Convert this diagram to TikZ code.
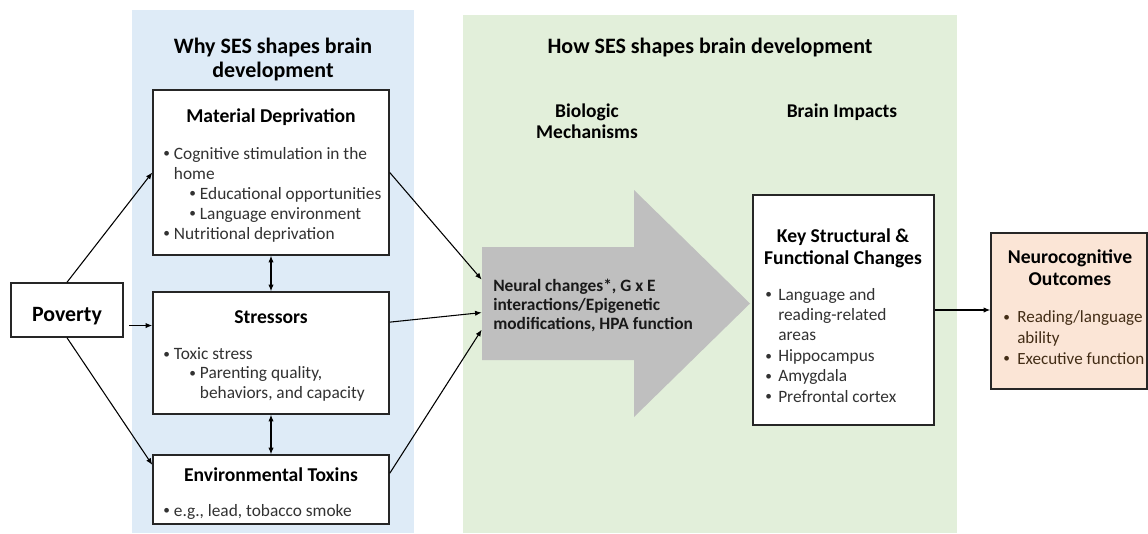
\documentclass[tikz,border=0pt]{standalone}
\usepackage{fontspec}
\setmainfont{Carlito}
\usetikzlibrary{positioning, arrows.meta, calc, fit}

\definecolor{whyblue}{RGB}{222,235,247}
\definecolor{howgreen}{RGB}{226,239,218}
\definecolor{mechgray}{RGB}{191,191,191}
\definecolor{outpeach}{RGB}{251,229,214}
\definecolor{bodytext}{RGB}{50,50,50}

\newcommand{\bul}[1][8pt]{\makebox[#1][l]{\raisebox{0.8pt}{\fontsize{10}{10}\selectfont\textbullet}}}
\newcommand{\sub}{\hspace*{19.5pt}}

\begin{document}
\begin{tikzpicture}[
    x=0.75pt, y=-0.75pt,
    panel/.style={inner sep=0pt, draw=none},
    box/.style={draw=black!85, line width=1.1pt, fill=white, inner sep=0pt},
    heading/.style={font=\fontsize{16.5}{18}\selectfont\bfseries, align=center, anchor=base, inner sep=0pt},
    boxtitle/.style={font=\fontsize{14.7}{16}\selectfont\bfseries, align=center, anchor=base, inner sep=0pt},
    items/.style={font=\fontsize{13}{15}\selectfont, text=bodytext, align=left, anchor=base west, inner sep=0pt},
    link/.style={-{Latex[length=5pt, width=4pt]}, line width=0.8pt},
    twoway/.style={{Latex[length=5pt, width=4pt]}-{Latex[length=5pt, width=4pt]}, line width=0.8pt}
]

    % Canvas
    \useasboundingbox (0,0) rectangle (1148,533);

    % Panels (anchor=base sits on the last line)
    \fill[whyblue] (132,10) rectangle (414,533);
    \fill[howgreen] (463,15) rectangle (957,533);
    \node[heading] (whytitle) at (273,77) {Why SES shapes brain\\development};
    \node[heading] (howtitle) at (710,53) {How SES shapes brain development};
    \node[boxtitle, font=\fontsize{14.6}{15.75}\selectfont\bfseries] (biotitle) at (587,138) {Biologic\\Mechanisms};
    \node[boxtitle, font=\fontsize{14.6}{15.75}\selectfont\bfseries] (imptitle) at (842,117) {Brain Impacts};

    % Poverty
    \node[box, fit={(11,283) (123,337)}] (pov) {};
    \node[boxtitle, font=\fontsize{16.4}{18}\selectfont\bfseries] (povtext) at (67,321) {Poverty};

    % Material deprivation
    \node[box, fit={(153,90) (389,255)}] (md) {};
    \node[boxtitle] (mdtitle) at (271,122) {Material Deprivation};
    \node[items] (mdlist) at (163,239) {\bul Cognitive stimulation in the\\
        \hspace*{8pt}home\\
        \sub\bul Educational opportunities\\
        \sub\bul Language environment\\
        \bul Nutritional deprivation};

    % Stressors
    \node[box, fit={(153,292) (389,414)}] (st) {};
    \node[boxtitle] (sttitle) at (271,323) {Stressors};
    \node[items, font=\fontsize{13}{14.6}\selectfont] (stlist) at (163,398) {\bul Toxic stress\\
        \sub\bul Parenting quality,\\
        \sub\hspace*{8pt}behaviors, and capacity};

    % Environmental toxins
    \node[box, fit={(153,455) (389,524)}] (env) {};
    \node[boxtitle] (envtitle) at (271,481) {Environmental Toxins};
    \node[items] (envlist) at (163,516) {\bul e.g., lead, tobacco smoke};

    % Biologic mechanisms arrow
    \fill[mechgray] (482,247) -- (634,247) -- (634,190) -- (750,303.5)
        -- (634,417) -- (634,360) -- (482,360) -- cycle;
    \node[panel, fit={(482,247) (634,360)}] (shaft) {};
    \node[items, text=black!90, font=\fontsize{13}{14.25}\selectfont\bfseries] (mech) at (493,329)
        {Neural changes*, G x E\\interactions/Epigenetic\\modifications, HPA function};

    % Brain impacts
    \node[box, fit={(753,195) (934,425)}] (key) {};
    \node[boxtitle] (keytitle) at (843,264) {Key Structural \&\\Functional Changes};
    \node[items, font=\fontsize{13}{15.3}\selectfont] (keylist) at (765,402) {\bul[9.75pt]Language and\\
        \hspace*{9.75pt}reading-related\\
        \hspace*{9.75pt}areas\\
        \bul[9.75pt]Hippocampus\\
        \bul[9.75pt]Amygdala\\
        \bul[9.75pt]Prefrontal cortex};

    % Outcomes
    \node[box, fill=outpeach, fit={(991,233) (1147,389)}] (out) {};
    \node[boxtitle] (outtitle) at (1070,285) {Neurocognitive\\Outcomes};
    \node[items, text=black!65!brown, font=\fontsize{12.8}{15.5}\selectfont] (outlist) at (1003,364) {\bul[10.5pt]Reading/language\\
        \hspace*{10.5pt}ability\\
        \bul[10.5pt]Executive function};

    % Connectors
    \coordinate (povout) at ($(pov.south east)!0.22!(pov.north east)$);
    \coordinate (stout) at ($(st.north east)!0.25!(st.south east)$);
    \coordinate (envin) at ($(env.north west)!0.15!(env.south west)$);
    \coordinate (envout) at ($(env.north east)!0.27!(env.south east)$);
    \draw[link] (pov.north) -- (md.west);
    \draw[link, shorten <=4pt] (povout) -- (povout -| st.west);
    \draw[link] (pov.south) -- (envin);
    \draw[twoway] (md.south) -- (st.north);
    \draw[twoway] (st.south) -- (env.north);
    \draw[link] (md.east) -- ($(shaft.north west)!0.29!(shaft.south west)$);
    \draw[link] (stout) -- ($(shaft.north west)!0.58!(shaft.south west)$);
    \draw[link] (envout) -- ($(shaft.north west)!0.73!(shaft.south west)$);
    \draw[link] (key.east) -- (key.east -| out.west);

\end{tikzpicture}
\end{document}
